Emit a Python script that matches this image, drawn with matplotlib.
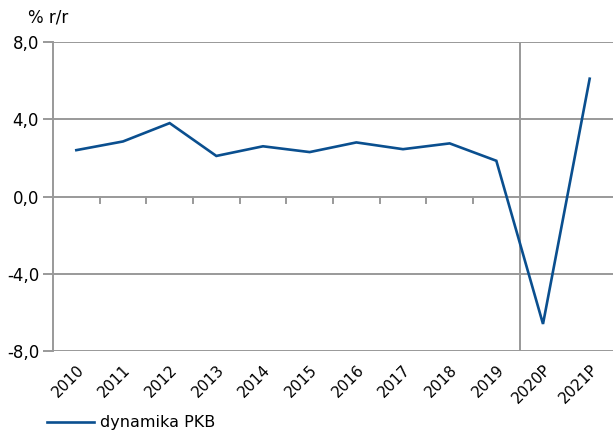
import numpy as np
import matplotlib.pyplot as plt
from matplotlib.lines import Line2D

years = ["2010", "2011", "2012", "2013", "2014", "2015", "2016", "2017",
         "2018", "2019", "2020P", "2021P"]
gdp = [2.4, 2.85, 3.8, 2.1, 2.6, 2.3, 2.8, 2.45, 2.75, 1.85, -6.6, 6.1]
yticks = [-8.0, -4.0, 0.0, 4.0, 8.0]
series_name = "dynamika PKB"
unit = "% r/r"

grey = "#999999"
blue = "#0a4f8f"

fig = plt.figure(figsize=(6.13, 4.32), dpi=100)
ax = fig.add_axes([53 / 613, 1 - 351 / 432, 1 - 53 / 613, (351 - 42) / 432])

x = np.arange(len(years))
ax.plot(x, gdp, color=blue, linewidth=1.9, solid_joinstyle="miter")

ax.set_xlim(-0.5, len(years) - 0.5)
ax.set_ylim(-8, 8)

# horizontal grid incl. zero line
for v in yticks:
    ax.axhline(v, color=grey, linewidth=1.4, zorder=0)
# divider between history and forecast
ax.axvline(9.5, color=grey, linewidth=1.4, zorder=0)
# small ticks on the zero line at category boundaries
for b in np.arange(0.5, 9.5, 1.0):
    ax.plot([b, b], [0, -0.35], color=grey, linewidth=1.4, zorder=0)

for s in ["top", "right", "bottom"]:
    ax.spines[s].set_visible(False)
ax.spines["left"].set_color(grey)
ax.spines["left"].set_linewidth(1.4)

ax.set_yticks(yticks)
ax.set_yticklabels([f"{v:.1f}".replace(".", ",") for v in yticks], fontsize=12)
ax.tick_params(axis="y", length=7, width=1.4, color=grey, pad=3)

ax.set_xticks(x)
ax.set_xticklabels(years, fontsize=11, rotation=45, ha="right",
                   rotation_mode="anchor")
ax.tick_params(axis="x", length=0, pad=8)

fig.text(28 / 613, 1 - 18 / 432, unit, fontsize=12, va="center", ha="left")

legend_line = Line2D([0], [0], color=blue, linewidth=1.9)
fig.legend([legend_line], [series_name], loc="center left",
           bbox_to_anchor=(41 / 613, 1 - 423 / 432), frameon=False, fontsize=11.5,
           handlelength=2.9, handletextpad=0.4, borderaxespad=0)

fig.savefig("out.png", dpi=100)
